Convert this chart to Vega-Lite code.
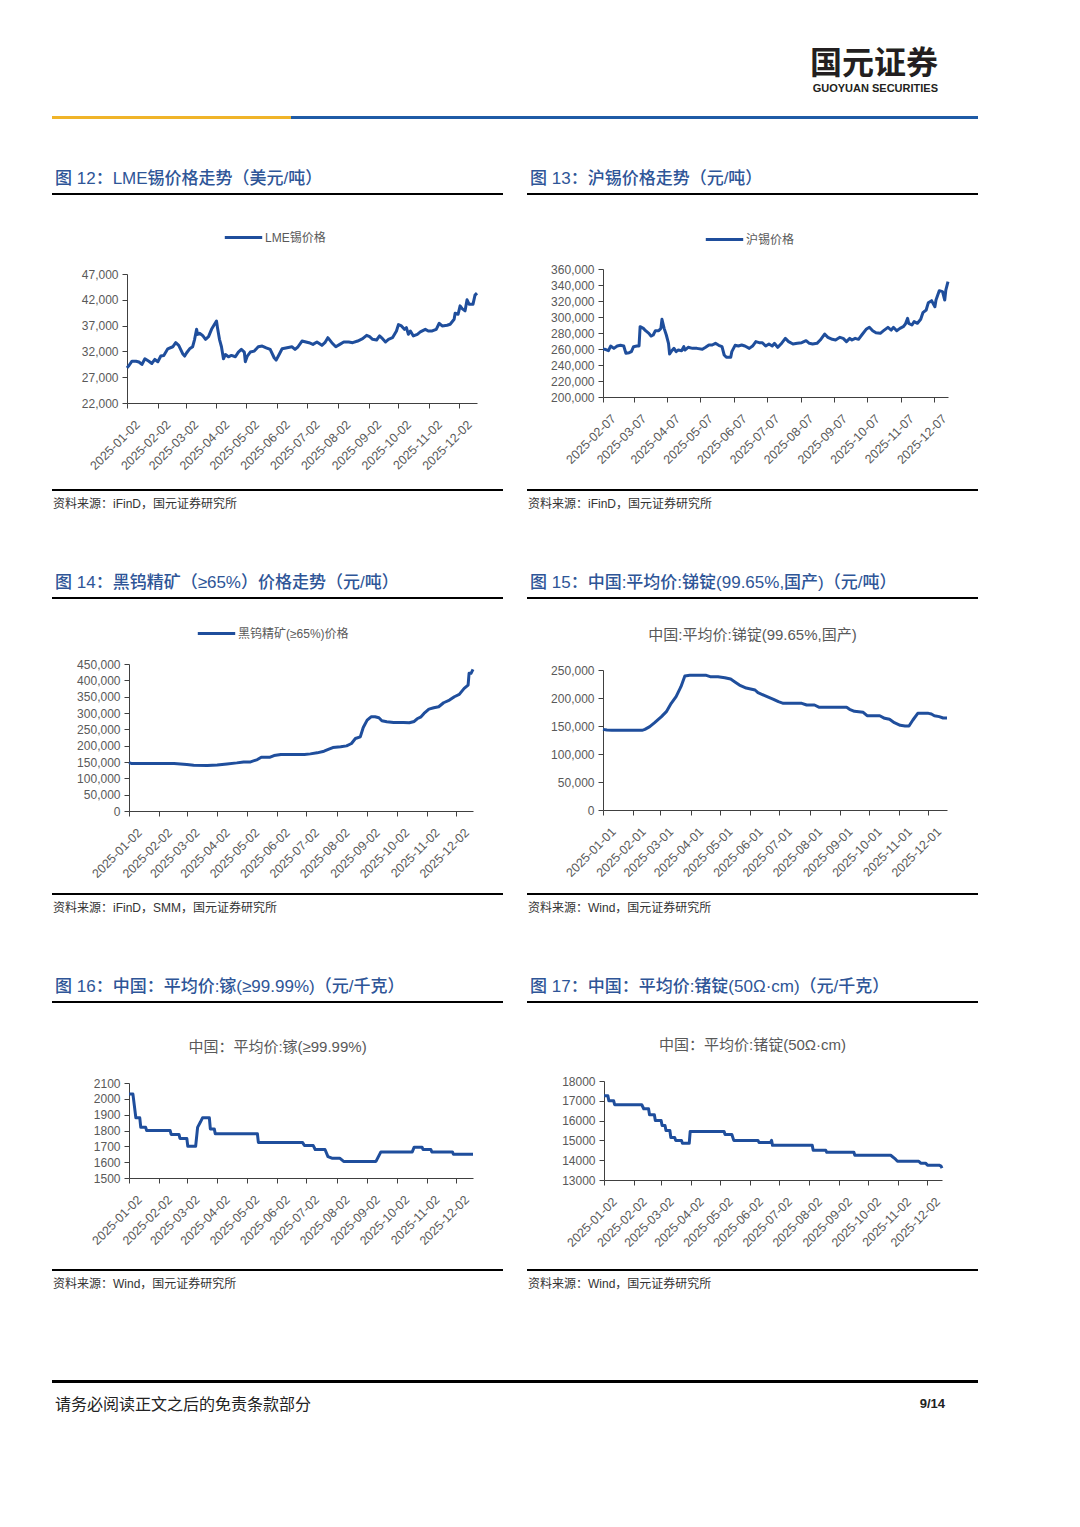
{
"$schema": "https://vega.github.io/schema/vega-lite/v6.json",
"background": "white",
"padding": {"left": 52, "top": 48, "right": 102, "bottom": 110},
"config": {
 "view": {"stroke": null},
 "font": "'Liberation Sans', 'Noto Sans CJK SC', sans-serif",
 "axis": {"grid": false, "domainColor": "#404040", "tickColor": "#404040", "tickSize": 5, "labelFont": "'Liberation Sans', sans-serif", "labelColor": "#595959", "labelFontSize": 12},
 "axisX": {"labelAngle": -45, "labelAlign": "right", "labelBaseline": "top", "labelOffset": 6, "labelPadding": 10, "labelFontSize": 12.5, "labelOverlap": false, "labelFlush": false},
 "axisY": {"labelPadding": 4},
 "title": {"font": "'Liberation Sans', 'Noto Sans CJK SC', sans-serif"},
 "line": {"strokeWidth": 3, "strokeJoin": "round", "color": "#1f4e9c"}
},
"datasets": {
 "lme": [{"date":"2025-01-02","price":28800},{"date":"2025-01-04","price":29270},{"date":"2025-01-07","price":30100},{"date":"2025-01-11","price":30100},{"date":"2025-01-14","price":29950},{"date":"2025-01-17","price":29470},{"date":"2025-01-20","price":30570},{"date":"2025-01-24","price":30100},{"date":"2025-01-27","price":29660},{"date":"2025-01-30","price":30440},{"date":"2025-02-02","price":30000},{"date":"2025-02-05","price":31100},{"date":"2025-02-08","price":31220},{"date":"2025-02-12","price":32500},{"date":"2025-02-17","price":32900},{"date":"2025-02-20","price":33700},{"date":"2025-02-23","price":33170},{"date":"2025-02-27","price":31550},{"date":"2025-03-01","price":31100},{"date":"2025-03-03","price":31740},{"date":"2025-03-06","price":32500},{"date":"2025-03-09","price":32900},{"date":"2025-03-11","price":34340},{"date":"2025-03-13","price":36280},{"date":"2025-03-14","price":35300},{"date":"2025-03-16","price":35500},{"date":"2025-03-19","price":35100},{"date":"2025-03-22","price":34340},{"date":"2025-03-25","price":34860},{"date":"2025-03-28","price":36280},{"date":"2025-03-31","price":37260},{"date":"2025-04-02","price":37900},{"date":"2025-04-03","price":36600},{"date":"2025-04-05","price":34340},{"date":"2025-04-07","price":32900},{"date":"2025-04-09","price":30570},{"date":"2025-04-11","price":31400},{"date":"2025-04-14","price":30960},{"date":"2025-04-17","price":31220},{"date":"2025-04-21","price":30960},{"date":"2025-04-24","price":31870},{"date":"2025-04-27","price":32390},{"date":"2025-04-30","price":31870},{"date":"2025-05-01","price":30000},{"date":"2025-05-03","price":31100},{"date":"2025-05-06","price":31870},{"date":"2025-05-10","price":32060},{"date":"2025-05-14","price":32900},{"date":"2025-05-18","price":33040},{"date":"2025-05-22","price":32700},{"date":"2025-05-26","price":32390},{"date":"2025-05-30","price":30770},{"date":"2025-06-01","price":30310},{"date":"2025-06-04","price":31400},{"date":"2025-06-07","price":32500},{"date":"2025-06-12","price":32700},{"date":"2025-06-17","price":32900},{"date":"2025-06-20","price":32390},{"date":"2025-06-23","price":32900},{"date":"2025-06-27","price":34010},{"date":"2025-07-01","price":33820},{"date":"2025-07-04","price":33690},{"date":"2025-07-08","price":33360},{"date":"2025-07-12","price":33820},{"date":"2025-07-17","price":33170},{"date":"2025-07-20","price":33690},{"date":"2025-07-23","price":34660},{"date":"2025-07-27","price":33690},{"date":"2025-07-31","price":32900},{"date":"2025-08-04","price":33360},{"date":"2025-08-08","price":33820},{"date":"2025-08-13","price":33820},{"date":"2025-08-17","price":33690},{"date":"2025-08-22","price":34010},{"date":"2025-08-27","price":34470},{"date":"2025-08-31","price":35120},{"date":"2025-09-03","price":34860},{"date":"2025-09-06","price":34340},{"date":"2025-09-10","price":34210},{"date":"2025-09-13","price":35000},{"date":"2025-09-16","price":34470},{"date":"2025-09-19","price":33820},{"date":"2025-09-22","price":34340},{"date":"2025-09-26","price":34660},{"date":"2025-09-30","price":35960},{"date":"2025-10-02","price":37190},{"date":"2025-10-05","price":36930},{"date":"2025-10-08","price":36280},{"date":"2025-10-10","price":36600},{"date":"2025-10-12","price":35310},{"date":"2025-10-14","price":35960},{"date":"2025-10-17","price":35000},{"date":"2025-10-21","price":35310},{"date":"2025-10-24","price":35770},{"date":"2025-10-29","price":36280},{"date":"2025-11-01","price":35960},{"date":"2025-11-05","price":35960},{"date":"2025-11-09","price":36280},{"date":"2025-11-12","price":37450},{"date":"2025-11-15","price":36930},{"date":"2025-11-20","price":37060},{"date":"2025-11-23","price":37260},{"date":"2025-11-27","price":38230},{"date":"2025-11-28","price":39400},{"date":"2025-12-01","price":39200},{"date":"2025-12-03","price":40830},{"date":"2025-12-05","price":40300},{"date":"2025-12-08","price":39860},{"date":"2025-12-10","price":42000},{"date":"2025-12-12","price":41160},{"date":"2025-12-16","price":41160},{"date":"2025-12-18","price":42900},{"date":"2025-12-20","price":43300}],
 "hx": [{"date":"2025-02-07","price":259600},{"date":"2025-02-09","price":259600},{"date":"2025-02-12","price":257900},{"date":"2025-02-14","price":263700},{"date":"2025-02-17","price":260800},{"date":"2025-02-20","price":263700},{"date":"2025-02-23","price":264600},{"date":"2025-02-26","price":263700},{"date":"2025-02-28","price":254600},{"date":"2025-03-03","price":255400},{"date":"2025-03-05","price":256700},{"date":"2025-03-07","price":262900},{"date":"2025-03-10","price":263700},{"date":"2025-03-12","price":263700},{"date":"2025-03-13","price":287900},{"date":"2025-03-16","price":285800},{"date":"2025-03-18","price":282900},{"date":"2025-03-21","price":279600},{"date":"2025-03-23","price":276200},{"date":"2025-03-25","price":277500},{"date":"2025-03-27","price":282900},{"date":"2025-03-30","price":282900},{"date":"2025-04-01","price":285800},{"date":"2025-04-02","price":297100},{"date":"2025-04-04","price":285800},{"date":"2025-04-06","price":277500},{"date":"2025-04-08","price":267100},{"date":"2025-04-09","price":253700},{"date":"2025-04-11","price":257900},{"date":"2025-04-13","price":260800},{"date":"2025-04-15","price":256700},{"date":"2025-04-17","price":258700},{"date":"2025-04-20","price":257900},{"date":"2025-04-22","price":262900},{"date":"2025-04-23","price":258700},{"date":"2025-04-26","price":262100},{"date":"2025-04-30","price":260800},{"date":"2025-05-04","price":260800},{"date":"2025-05-09","price":259600},{"date":"2025-05-12","price":262100},{"date":"2025-05-15","price":265000},{"date":"2025-05-18","price":265000},{"date":"2025-05-21","price":267100},{"date":"2025-05-24","price":264600},{"date":"2025-05-27","price":262900},{"date":"2025-05-29","price":252500},{"date":"2025-05-31","price":249600},{"date":"2025-06-04","price":249600},{"date":"2025-06-05","price":256700},{"date":"2025-06-08","price":264600},{"date":"2025-06-11","price":263700},{"date":"2025-06-14","price":265000},{"date":"2025-06-17","price":263700},{"date":"2025-06-21","price":260800},{"date":"2025-06-24","price":263700},{"date":"2025-06-27","price":269200},{"date":"2025-06-30","price":267900},{"date":"2025-07-03","price":267900},{"date":"2025-07-06","price":263700},{"date":"2025-07-09","price":266200},{"date":"2025-07-12","price":263700},{"date":"2025-07-14","price":267100},{"date":"2025-07-17","price":262100},{"date":"2025-07-20","price":266200},{"date":"2025-07-24","price":273300},{"date":"2025-07-27","price":269200},{"date":"2025-07-31","price":266200},{"date":"2025-08-04","price":267100},{"date":"2025-08-08","price":267900},{"date":"2025-08-12","price":270400},{"date":"2025-08-15","price":267100},{"date":"2025-08-18","price":266200},{"date":"2025-08-22","price":267100},{"date":"2025-08-25","price":271200},{"date":"2025-08-29","price":278700},{"date":"2025-09-01","price":274600},{"date":"2025-09-05","price":272100},{"date":"2025-09-08","price":271200},{"date":"2025-09-12","price":274600},{"date":"2025-09-15","price":273300},{"date":"2025-09-18","price":269200},{"date":"2025-09-21","price":273300},{"date":"2025-09-23","price":271200},{"date":"2025-09-26","price":273300},{"date":"2025-09-29","price":272100},{"date":"2025-10-02","price":277500},{"date":"2025-10-06","price":284600},{"date":"2025-10-09","price":287100},{"date":"2025-10-12","price":282900},{"date":"2025-10-15","price":280400},{"date":"2025-10-19","price":279600},{"date":"2025-10-22","price":282900},{"date":"2025-10-26","price":287100},{"date":"2025-10-29","price":283700},{"date":"2025-10-31","price":287100},{"date":"2025-11-03","price":282900},{"date":"2025-11-06","price":285800},{"date":"2025-11-09","price":287900},{"date":"2025-11-11","price":291200},{"date":"2025-11-13","price":298300},{"date":"2025-11-14","price":292100},{"date":"2025-11-17","price":290000},{"date":"2025-11-19","price":294200},{"date":"2025-11-22","price":292100},{"date":"2025-11-25","price":297100},{"date":"2025-11-27","price":305400},{"date":"2025-11-30","price":308700},{"date":"2025-12-02","price":317900},{"date":"2025-12-05","price":320400},{"date":"2025-12-08","price":312900},{"date":"2025-12-09","price":321200},{"date":"2025-12-12","price":332900},{"date":"2025-12-15","price":331700},{"date":"2025-12-17","price":321200},{"date":"2025-12-18","price":333700},{"date":"2025-12-20","price":344200}],
 "wolf": [{"date":"2025-01-02","price":148300},{"date":"2025-01-05","price":145200},{"date":"2025-01-24","price":145200},{"date":"2025-02-17","price":145200},{"date":"2025-03-02","price":142200},{"date":"2025-03-09","price":140100},{"date":"2025-03-23","price":139100},{"date":"2025-04-02","price":141100},{"date":"2025-04-12","price":144200},{"date":"2025-04-22","price":147300},{"date":"2025-04-29","price":150300},{"date":"2025-05-06","price":150300},{"date":"2025-05-13","price":157500},{"date":"2025-05-17","price":164700},{"date":"2025-05-26","price":164700},{"date":"2025-05-30","price":169800},{"date":"2025-06-06","price":172800},{"date":"2025-06-16","price":172800},{"date":"2025-06-30","price":172800},{"date":"2025-07-06","price":174900},{"date":"2025-07-13","price":178000},{"date":"2025-07-20","price":183100},{"date":"2025-07-25","price":189200},{"date":"2025-07-29","price":194300},{"date":"2025-08-06","price":196400},{"date":"2025-08-12","price":199400},{"date":"2025-08-17","price":206600},{"date":"2025-08-21","price":221900},{"date":"2025-08-26","price":227000},{"date":"2025-08-29","price":255700},{"date":"2025-09-02","price":278200},{"date":"2025-09-06","price":288400},{"date":"2025-09-10","price":288400},{"date":"2025-09-14","price":285300},{"date":"2025-09-17","price":276100},{"date":"2025-09-22","price":273100},{"date":"2025-09-29","price":271000},{"date":"2025-10-09","price":271000},{"date":"2025-10-15","price":270000},{"date":"2025-10-20","price":274100},{"date":"2025-10-23","price":282300},{"date":"2025-10-27","price":288400},{"date":"2025-10-30","price":298600},{"date":"2025-11-04","price":311900},{"date":"2025-11-09","price":316000},{"date":"2025-11-14","price":319100},{"date":"2025-11-19","price":331400},{"date":"2025-11-25","price":339500},{"date":"2025-11-30","price":349800},{"date":"2025-12-05","price":356900},{"date":"2025-12-10","price":375300},{"date":"2025-12-14","price":385600},{"date":"2025-12-15","price":421400},{"date":"2025-12-17","price":421400},{"date":"2025-12-19","price":433600}],
 "sb": [{"date":"2025-01-01","price":144000},{"date":"2025-01-05","price":142800},{"date":"2025-01-10","price":142300},{"date":"2025-02-10","price":142300},{"date":"2025-02-13","price":144000},{"date":"2025-02-18","price":148800},{"date":"2025-02-23","price":155900},{"date":"2025-03-02","price":166700},{"date":"2025-03-07","price":175600},{"date":"2025-03-12","price":190500},{"date":"2025-03-17","price":202400},{"date":"2025-03-22","price":220200},{"date":"2025-03-26","price":239300},{"date":"2025-03-31","price":240500},{"date":"2025-04-17","price":240500},{"date":"2025-04-21","price":238100},{"date":"2025-04-29","price":238100},{"date":"2025-05-06","price":236300},{"date":"2025-05-12","price":233900},{"date":"2025-05-16","price":229200},{"date":"2025-05-21","price":223200},{"date":"2025-05-28","price":217800},{"date":"2025-06-06","price":214300},{"date":"2025-06-09","price":209500},{"date":"2025-06-16","price":204200},{"date":"2025-06-25","price":197600},{"date":"2025-06-30","price":193400},{"date":"2025-07-05","price":190500},{"date":"2025-07-13","price":190500},{"date":"2025-07-24","price":190500},{"date":"2025-07-29","price":187500},{"date":"2025-08-06","price":187500},{"date":"2025-08-11","price":183300},{"date":"2025-08-23","price":183300},{"date":"2025-09-08","price":183300},{"date":"2025-09-11","price":179800},{"date":"2025-09-16","price":176200},{"date":"2025-09-25","price":174400},{"date":"2025-09-29","price":168400},{"date":"2025-10-12","price":168400},{"date":"2025-10-17","price":163700},{"date":"2025-10-22","price":161900},{"date":"2025-10-27","price":155900},{"date":"2025-11-02","price":151200},{"date":"2025-11-07","price":150000},{"date":"2025-11-11","price":150000},{"date":"2025-11-15","price":160700},{"date":"2025-11-20","price":172600},{"date":"2025-12-01","price":172600},{"date":"2025-12-04","price":171400},{"date":"2025-12-07","price":168400},{"date":"2025-12-12","price":166700},{"date":"2025-12-16","price":164300},{"date":"2025-12-20","price":164300}],
 "ga": [{"date":"2025-01-02","price":2030},{"date":"2025-01-06","price":2030},{"date":"2025-01-09","price":1880},{"date":"2025-01-13","price":1880},{"date":"2025-01-14","price":1820},{"date":"2025-01-19","price":1820},{"date":"2025-01-20","price":1800},{"date":"2025-02-13","price":1800},{"date":"2025-02-14","price":1775},{"date":"2025-02-22","price":1775},{"date":"2025-02-23","price":1750},{"date":"2025-03-02","price":1750},{"date":"2025-03-03","price":1700},{"date":"2025-03-11","price":1700},{"date":"2025-03-13","price":1820},{"date":"2025-03-16","price":1855},{"date":"2025-03-18","price":1880},{"date":"2025-03-25","price":1880},{"date":"2025-03-26","price":1810},{"date":"2025-03-30","price":1810},{"date":"2025-03-31","price":1780},{"date":"2025-05-13","price":1780},{"date":"2025-05-14","price":1725},{"date":"2025-06-28","price":1725},{"date":"2025-06-30","price":1705},{"date":"2025-07-09","price":1705},{"date":"2025-07-11","price":1680},{"date":"2025-07-21","price":1680},{"date":"2025-07-24","price":1635},{"date":"2025-07-28","price":1625},{"date":"2025-08-05","price":1625},{"date":"2025-08-09","price":1605},{"date":"2025-09-11","price":1605},{"date":"2025-09-16","price":1665},{"date":"2025-10-18","price":1665},{"date":"2025-10-20","price":1695},{"date":"2025-10-28","price":1695},{"date":"2025-10-29","price":1680},{"date":"2025-11-06","price":1680},{"date":"2025-11-07","price":1665},{"date":"2025-11-28","price":1665},{"date":"2025-11-29","price":1650},{"date":"2025-12-19","price":1650}],
 "ge": [{"date":"2025-01-02","price":17250},{"date":"2025-01-06","price":17250},{"date":"2025-01-07","price":17000},{"date":"2025-01-12","price":17000},{"date":"2025-01-13","price":16800},{"date":"2025-02-10","price":16800},{"date":"2025-02-12","price":16600},{"date":"2025-02-17","price":16600},{"date":"2025-02-18","price":16300},{"date":"2025-02-23","price":16300},{"date":"2025-02-24","price":16000},{"date":"2025-03-02","price":16000},{"date":"2025-03-03","price":15750},{"date":"2025-03-06","price":15750},{"date":"2025-03-07","price":15500},{"date":"2025-03-11","price":15500},{"date":"2025-03-12","price":15150},{"date":"2025-03-16","price":15150},{"date":"2025-03-17","price":15000},{"date":"2025-03-23","price":15000},{"date":"2025-03-24","price":14850},{"date":"2025-03-31","price":14850},{"date":"2025-04-01","price":15450},{"date":"2025-05-06","price":15450},{"date":"2025-05-07","price":15300},{"date":"2025-05-14","price":15300},{"date":"2025-05-16","price":15000},{"date":"2025-06-10","price":15000},{"date":"2025-06-11","price":14900},{"date":"2025-06-23","price":14900},{"date":"2025-06-24","price":15000},{"date":"2025-06-25","price":14750},{"date":"2025-08-05","price":14750},{"date":"2025-08-06","price":14500},{"date":"2025-08-19","price":14500},{"date":"2025-08-20","price":14400},{"date":"2025-09-17","price":14400},{"date":"2025-09-18","price":14250},{"date":"2025-10-25","price":14250},{"date":"2025-10-30","price":14050},{"date":"2025-11-01","price":13950},{"date":"2025-11-23","price":13950},{"date":"2025-11-25","price":13850},{"date":"2025-11-30","price":13850},{"date":"2025-12-02","price":13750},{"date":"2025-12-14","price":13750},{"date":"2025-12-16","price":13700},{"date":"2025-12-17","price":13600}]
},
"spacing": 51,
"resolve": {"scale": {"color": "independent"}, "legend": {"color": "independent"}},
"vconcat": [
 {"bounds": "flush", "spacing": 0, "hconcat": [
  {"width": 239, "height": 3, "view": {"fill": "#f0b429", "stroke": null}, "data": {"values": [{"k": 0}]}, "mark": {"type": "point", "size": 0, "opacity": 0}},
  {"width": 687, "height": 3, "view": {"fill": "#1f5ba6", "stroke": null}, "data": {"values": [{"k": 0}]}, "mark": {"type": "point", "size": 0, "opacity": 0},
   "title": {"text": "国元证券", "subtitle": "GUOYUAN SECURITIES", "anchor": "end", "orient": "top", "offset": 21, "dx": -40, "fontSize": 32, "fontWeight": "bold", "color": "#231f20", "font": "'Noto Sans CJK SC', sans-serif", "subtitleFont": "'Liberation Sans', sans-serif", "subtitleFontSize": 11, "subtitleFontWeight": "bold", "subtitleColor": "#231f20", "subtitlePadding": 2}}
 ]},
 {"spacing": 90, "resolve": {"scale": {"color": "independent"}, "legend": {"color": "independent"}}, "vconcat": [
  {"spacing": 64, "resolve": {"scale": {"color": "independent"}, "legend": {"color": "independent"}}, "vconcat": [
   {"spacing": 24, "resolve": {"scale": {"color": "independent"}, "legend": {"color": "independent"}}, "hconcat": [
    {"spacing": 0, "resolve": {"scale": {"color": "independent"}, "legend": {"color": "independent"}}, "vconcat": [
     {"width": 451, "height": 2, "view": {"fill": "#000000", "stroke": null}, "data": {"values": [{"k": 0}]}, "mark": {"type": "point", "size": 0, "opacity": 0},
      "title": {"text": "图 12：LME锡价格走势（美元/吨）", "anchor": "start", "orient": "top", "offset": 5, "dx": 3, "fontSize": 17, "fontWeight": 500, "color": "#2e5597"}},
     {"width": 451, "height": 294, "data": {"name": "lme"}, "mark": {"type": "line"},
      "encoding": {
       "x": {"field": "date", "type": "temporal", "scale": {"type": "utc", "domain": [{"year":2025,"month":1,"date":2,"utc":true},{"year":2025,"month":12,"date":20,"utc":true}], "range": [75, 425]},
        "axis": {"title": null, "format": "%Y-%m-%d", "offset": -86, "values": [{"year":2025,"month":1,"date":2,"utc":true},{"year":2025,"month":2,"date":2,"utc":true},{"year":2025,"month":3,"date":2,"utc":true},{"year":2025,"month":4,"date":2,"utc":true},{"year":2025,"month":5,"date":2,"utc":true},{"year":2025,"month":6,"date":2,"utc":true},{"year":2025,"month":7,"date":2,"utc":true},{"year":2025,"month":8,"date":2,"utc":true},{"year":2025,"month":9,"date":2,"utc":true},{"year":2025,"month":10,"date":2,"utc":true},{"year":2025,"month":11,"date":2,"utc":true},{"year":2025,"month":12,"date":2,"utc":true}]}},
       "y": {"field": "price", "type": "quantitative", "scale": {"domain": [22000, 47000], "range": [208, 79], "zero": false, "nice": false},
        "axis": {"title": null, "format": ",.0f", "offset": -75, "values": [22000, 27000, 32000, 37000, 42000, 47000]}},
       "color": {"datum": "LME锡价格", "scale": {"range": ["#1f4e9c"]},
        "legend": {"title": null, "orient": "none", "legendX": 171, "legendY": 22, "symbolType": "stroke", "symbolSize": 1400, "symbolStrokeWidth": 3, "labelFontSize": 12, "labelColor": "#595959", "labelOffset": 1, "padding": 0}}
      }},
     {"width": 451, "height": 2, "view": {"fill": "#000000", "stroke": null}, "data": {"values": [{"k": 0}]}, "mark": {"type": "point", "size": 0, "opacity": 0},
      "title": {"text": "资料来源：iFinD，国元证券研究所", "anchor": "start", "orient": "bottom", "offset": 8, "dx": 1, "fontSize": 12, "fontWeight": "normal", "color": "#333333"}}
    ]},
    {"spacing": 0, "resolve": {"scale": {"color": "independent"}, "legend": {"color": "independent"}}, "vconcat": [
     {"width": 451, "height": 2, "view": {"fill": "#000000", "stroke": null}, "data": {"values": [{"k": 0}]}, "mark": {"type": "point", "size": 0, "opacity": 0},
      "title": {"text": "图 13：沪锡价格走势（元/吨）", "anchor": "start", "orient": "top", "offset": 5, "dx": 3, "fontSize": 17, "fontWeight": 500, "color": "#2e5597"}},
     {"width": 451, "height": 294, "data": {"name": "hx"}, "mark": {"type": "line"},
      "encoding": {
       "x": {"field": "date", "type": "temporal", "scale": {"type": "utc", "domain": [{"year":2025,"month":2,"date":7,"utc":true},{"year":2025,"month":12,"date":20,"utc":true}], "range": [76, 421]},
        "axis": {"title": null, "format": "%Y-%m-%d", "offset": -92, "values": [{"year":2025,"month":2,"date":7,"utc":true},{"year":2025,"month":3,"date":7,"utc":true},{"year":2025,"month":4,"date":7,"utc":true},{"year":2025,"month":5,"date":7,"utc":true},{"year":2025,"month":6,"date":7,"utc":true},{"year":2025,"month":7,"date":7,"utc":true},{"year":2025,"month":8,"date":7,"utc":true},{"year":2025,"month":9,"date":7,"utc":true},{"year":2025,"month":10,"date":7,"utc":true},{"year":2025,"month":11,"date":7,"utc":true},{"year":2025,"month":12,"date":7,"utc":true}]}},
       "y": {"field": "price", "type": "quantitative", "scale": {"domain": [200000, 360000], "range": [202, 74], "zero": false, "nice": false},
        "axis": {"title": null, "format": ",.0f", "offset": -76, "values": [200000, 220000, 240000, 260000, 280000, 300000, 320000, 340000, 360000]}},
       "color": {"datum": "沪锡价格", "scale": {"range": ["#1f4e9c"]},
        "legend": {"title": null, "orient": "none", "legendX": 177, "legendY": 24, "symbolType": "stroke", "symbolSize": 1400, "symbolStrokeWidth": 3, "labelFontSize": 12, "labelColor": "#595959", "labelOffset": 1, "padding": 0}}
      }},
     {"width": 451, "height": 2, "view": {"fill": "#000000", "stroke": null}, "data": {"values": [{"k": 0}]}, "mark": {"type": "point", "size": 0, "opacity": 0},
      "title": {"text": "资料来源：iFinD，国元证券研究所", "anchor": "start", "orient": "bottom", "offset": 8, "dx": 1, "fontSize": 12, "fontWeight": "normal", "color": "#333333"}}
    ]}
   ]},
   {"spacing": 24, "resolve": {"scale": {"color": "independent"}, "legend": {"color": "independent"}}, "hconcat": [
    {"spacing": 0, "resolve": {"scale": {"color": "independent"}, "legend": {"color": "independent"}}, "vconcat": [
     {"width": 451, "height": 2, "view": {"fill": "#000000", "stroke": null}, "data": {"values": [{"k": 0}]}, "mark": {"type": "point", "size": 0, "opacity": 0},
      "title": {"text": "图 14：黑钨精矿（≥65%）价格走势（元/吨）", "anchor": "start", "orient": "top", "offset": 5, "dx": 3, "fontSize": 17, "fontWeight": 500, "color": "#2e5597"}},
     {"width": 451, "height": 294, "data": {"name": "wolf"}, "mark": {"type": "line"},
      "encoding": {
       "x": {"field": "date", "type": "temporal", "scale": {"type": "utc", "domain": [{"year":2025,"month":1,"date":2,"utc":true},{"year":2025,"month":12,"date":19,"utc":true}], "range": [77, 421]},
        "axis": {"title": null, "format": "%Y-%m-%d", "offset": -82, "values": [{"year":2025,"month":1,"date":2,"utc":true},{"year":2025,"month":2,"date":2,"utc":true},{"year":2025,"month":3,"date":2,"utc":true},{"year":2025,"month":4,"date":2,"utc":true},{"year":2025,"month":5,"date":2,"utc":true},{"year":2025,"month":6,"date":2,"utc":true},{"year":2025,"month":7,"date":2,"utc":true},{"year":2025,"month":8,"date":2,"utc":true},{"year":2025,"month":9,"date":2,"utc":true},{"year":2025,"month":10,"date":2,"utc":true},{"year":2025,"month":11,"date":2,"utc":true},{"year":2025,"month":12,"date":2,"utc":true}]}},
       "y": {"field": "price", "type": "quantitative", "scale": {"domain": [0, 450000], "range": [212, 65], "nice": false},
        "axis": {"title": null, "format": ",.0f", "offset": -77, "values": [0, 50000, 100000, 150000, 200000, 250000, 300000, 350000, 400000, 450000]}},
       "color": {"datum": "黑钨精矿(≥65%)价格", "scale": {"range": ["#1f4e9c"]},
        "legend": {"title": null, "orient": "none", "legendX": 144, "legendY": 14, "symbolType": "stroke", "symbolSize": 1400, "symbolStrokeWidth": 3, "labelFontSize": 12, "labelColor": "#595959", "labelOffset": 1, "padding": 0}}
      }},
     {"width": 451, "height": 2, "view": {"fill": "#000000", "stroke": null}, "data": {"values": [{"k": 0}]}, "mark": {"type": "point", "size": 0, "opacity": 0},
      "title": {"text": "资料来源：iFinD，SMM，国元证券研究所", "anchor": "start", "orient": "bottom", "offset": 8, "dx": 1, "fontSize": 12, "fontWeight": "normal", "color": "#333333"}}
    ]},
    {"spacing": 0, "resolve": {"scale": {"color": "independent"}, "legend": {"color": "independent"}}, "vconcat": [
     {"width": 451, "height": 2, "view": {"fill": "#000000", "stroke": null}, "data": {"values": [{"k": 0}]}, "mark": {"type": "point", "size": 0, "opacity": 0},
      "title": {"text": "图 15：中国:平均价:锑锭(99.65%,国产)（元/吨）", "anchor": "start", "orient": "top", "offset": 5, "dx": 3, "fontSize": 17, "fontWeight": 500, "color": "#2e5597"}},
     {"width": 451, "height": 294, "data": {"name": "sb"}, "mark": {"type": "line"},
      "title": {"text": "中国:平均价:锑锭(99.65%,国产)", "anchor": "middle", "orient": "top", "frame": "group", "offset": -44, "fontSize": 15, "fontWeight": "normal", "color": "#595959"},
      "encoding": {
       "x": {"field": "date", "type": "temporal", "scale": {"type": "utc", "domain": [{"year":2025,"month":1,"date":1,"utc":true},{"year":2025,"month":12,"date":20,"utc":true}], "range": [76, 420]},
        "axis": {"title": null, "format": "%Y-%m-%d", "offset": -83, "values": [{"year":2025,"month":1,"date":1,"utc":true},{"year":2025,"month":2,"date":1,"utc":true},{"year":2025,"month":3,"date":1,"utc":true},{"year":2025,"month":4,"date":1,"utc":true},{"year":2025,"month":5,"date":1,"utc":true},{"year":2025,"month":6,"date":1,"utc":true},{"year":2025,"month":7,"date":1,"utc":true},{"year":2025,"month":8,"date":1,"utc":true},{"year":2025,"month":9,"date":1,"utc":true},{"year":2025,"month":10,"date":1,"utc":true},{"year":2025,"month":11,"date":1,"utc":true},{"year":2025,"month":12,"date":1,"utc":true}]}},
       "y": {"field": "price", "type": "quantitative", "scale": {"domain": [0, 250000], "range": [211, 71], "nice": false},
        "axis": {"title": null, "format": ",.0f", "offset": -76, "values": [0, 50000, 100000, 150000, 200000, 250000]}}
      }},
     {"width": 451, "height": 2, "view": {"fill": "#000000", "stroke": null}, "data": {"values": [{"k": 0}]}, "mark": {"type": "point", "size": 0, "opacity": 0},
      "title": {"text": "资料来源：Wind，国元证券研究所", "anchor": "start", "orient": "bottom", "offset": 8, "dx": 1, "fontSize": 12, "fontWeight": "normal", "color": "#333333"}}
    ]}
   ]},
   {"spacing": 24, "resolve": {"scale": {"color": "independent"}, "legend": {"color": "independent"}}, "hconcat": [
    {"spacing": 0, "vconcat": [
     {"width": 451, "height": 2, "view": {"fill": "#000000", "stroke": null}, "data": {"values": [{"k": 0}]}, "mark": {"type": "point", "size": 0, "opacity": 0},
      "title": {"text": "图 16：中国：平均价:镓(≥99.99%)（元/千克）", "anchor": "start", "orient": "top", "offset": 5, "dx": 3, "fontSize": 17, "fontWeight": 500, "color": "#2e5597"}},
     {"width": 451, "height": 266, "data": {"name": "ga"}, "mark": {"type": "line"},
      "title": {"text": "中国：平均价:镓(≥99.99%)", "anchor": "middle", "orient": "top", "frame": "group", "offset": -52, "fontSize": 15, "fontWeight": "normal", "color": "#595959"},
      "encoding": {
       "x": {"field": "date", "type": "temporal", "scale": {"type": "utc", "domain": [{"year":2025,"month":1,"date":2,"utc":true},{"year":2025,"month":12,"date":19,"utc":true}], "range": [77, 421]},
        "axis": {"title": null, "format": "%Y-%m-%d", "offset": -91, "values": [{"year":2025,"month":1,"date":2,"utc":true},{"year":2025,"month":2,"date":2,"utc":true},{"year":2025,"month":3,"date":2,"utc":true},{"year":2025,"month":4,"date":2,"utc":true},{"year":2025,"month":5,"date":2,"utc":true},{"year":2025,"month":6,"date":2,"utc":true},{"year":2025,"month":7,"date":2,"utc":true},{"year":2025,"month":8,"date":2,"utc":true},{"year":2025,"month":9,"date":2,"utc":true},{"year":2025,"month":10,"date":2,"utc":true},{"year":2025,"month":11,"date":2,"utc":true},{"year":2025,"month":12,"date":2,"utc":true}]}},
       "y": {"field": "price", "type": "quantitative", "scale": {"domain": [1500, 2100], "range": [175, 80], "zero": false, "nice": false},
        "axis": {"title": null, "format": "d", "offset": -77, "values": [1500, 1600, 1700, 1800, 1900, 2000, 2100]}}
      }},
     {"width": 451, "height": 2, "view": {"fill": "#000000", "stroke": null}, "data": {"values": [{"k": 0}]}, "mark": {"type": "point", "size": 0, "opacity": 0},
      "title": {"text": "资料来源：Wind，国元证券研究所", "anchor": "start", "orient": "bottom", "offset": 8, "dx": 1, "fontSize": 12, "fontWeight": "normal", "color": "#333333"}}
    ]},
    {"spacing": 0, "vconcat": [
     {"width": 451, "height": 2, "view": {"fill": "#000000", "stroke": null}, "data": {"values": [{"k": 0}]}, "mark": {"type": "point", "size": 0, "opacity": 0},
      "title": {"text": "图 17：中国：平均价:锗锭(50Ω·cm)（元/千克）", "anchor": "start", "orient": "top", "offset": 5, "dx": 3, "fontSize": 17, "fontWeight": 500, "color": "#2e5597"}},
     {"width": 451, "height": 266, "data": {"name": "ge"}, "mark": {"type": "line"},
      "title": {"text": "中国：平均价:锗锭(50Ω·cm)", "anchor": "middle", "orient": "top", "frame": "group", "offset": -50, "fontSize": 15, "fontWeight": "normal", "color": "#595959"},
      "encoding": {
       "x": {"field": "date", "type": "temporal", "scale": {"type": "utc", "domain": [{"year":2025,"month":1,"date":2,"utc":true},{"year":2025,"month":12,"date":17,"utc":true}], "range": [77, 415]},
        "axis": {"title": null, "format": "%Y-%m-%d", "offset": -89, "values": [{"year":2025,"month":1,"date":2,"utc":true},{"year":2025,"month":2,"date":2,"utc":true},{"year":2025,"month":3,"date":2,"utc":true},{"year":2025,"month":4,"date":2,"utc":true},{"year":2025,"month":5,"date":2,"utc":true},{"year":2025,"month":6,"date":2,"utc":true},{"year":2025,"month":7,"date":2,"utc":true},{"year":2025,"month":8,"date":2,"utc":true},{"year":2025,"month":9,"date":2,"utc":true},{"year":2025,"month":10,"date":2,"utc":true},{"year":2025,"month":11,"date":2,"utc":true},{"year":2025,"month":12,"date":2,"utc":true}]}},
       "y": {"field": "price", "type": "quantitative", "scale": {"domain": [13000, 18000], "range": [177, 78], "zero": false, "nice": false},
        "axis": {"title": null, "format": "d", "offset": -77, "values": [13000, 14000, 15000, 16000, 17000, 18000]}}
      }},
     {"width": 451, "height": 2, "view": {"fill": "#000000", "stroke": null}, "data": {"values": [{"k": 0}]}, "mark": {"type": "point", "size": 0, "opacity": 0},
      "title": {"text": "资料来源：Wind，国元证券研究所", "anchor": "start", "orient": "bottom", "offset": 8, "dx": 1, "fontSize": 12, "fontWeight": "normal", "color": "#333333"}}
    ]}
   ]}
  ]},
  {"spacing": 0, "bounds": "flush", "hconcat": [
   {"width": 893, "height": 3, "view": {"fill": "#000000", "stroke": null}, "data": {"values": [{"k": 0}]}, "mark": {"type": "point", "size": 0, "opacity": 0},
    "title": {"text": "请务必阅读正文之后的免责条款部分", "anchor": "start", "orient": "bottom", "offset": 14, "dx": 3, "fontSize": 16, "fontWeight": "normal", "color": "#222222"}},
   {"width": 33, "height": 3, "view": {"fill": "#000000", "stroke": null}, "data": {"values": [{"k": 0}]}, "mark": {"type": "point", "size": 0, "opacity": 0},
    "title": {"text": "9/14", "anchor": "start", "align": "right", "orient": "bottom", "offset": 15, "fontSize": 13, "fontWeight": "bold", "color": "#222222", "font": "'Liberation Sans', sans-serif"}}
  ]}
 ]}
]
}
